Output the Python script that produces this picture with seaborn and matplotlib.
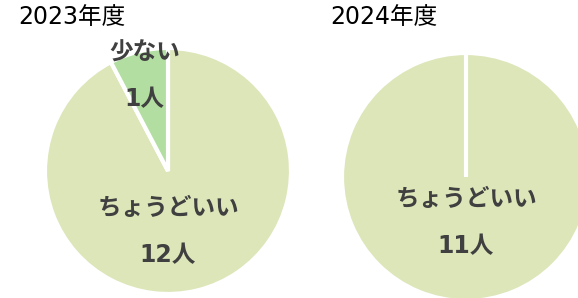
import numpy as np
import matplotlib
matplotlib.use("Agg")
import matplotlib.pyplot as plt
import seaborn as sns

# ---- data ----
categories = ["ちょうどいい", "少ない"]
years = ["2023年度", "2024年度"]
values_2023 = [12, 1]
values_2024 = [11, 0]
unit = "人"

sns.set_theme(style="white")
plt.rcParams["font.family"] = ["DejaVu Sans", "Noto Sans CJK JP"]

colors = ["#DCE6B9", "#B3DEA1"]
text_color = "#404040"

W, H = 578, 298
fig = plt.figure(figsize=(W / 100, H / 100), dpi=100)
fig.patch.set_facecolor("white")


def pie_axes(cx, cy, r):
    ax = fig.add_axes([(cx - r) / W, (H - cy - r) / H, 2 * r / W, 2 * r / H])
    return ax


LFS = 17


def draw(ax, vals, big_label_r):
    wedges, _ = ax.pie(vals, colors=colors, startangle=90, counterclock=False,
                       wedgeprops=dict(edgecolor="white", linewidth=3))
    ax.set_xlim(-1, 1)
    ax.set_ylim(-1, 1)
    ax.set_aspect("equal")
    ax.axis("off")
    for w, cat, v in zip(wedges, categories, vals):
        if v == 0:
            continue
        if v == max(vals):
            ax.text(0, -big_label_r + 0.19, cat, ha="center", va="center",
                    fontsize=LFS, fontweight="bold", color=text_color)
            ax.text(0, -big_label_r - 0.19, f"{v}{unit}", ha="center", va="center",
                    fontsize=LFS, fontweight="bold", color=text_color)
        else:
            ang = np.deg2rad((w.theta1 + w.theta2) / 2)
            lx = 0.8 * np.cos(ang)
            ax.text(lx, 0.985 * np.sin(ang) + 0.01, cat, ha="center", va="center",
                    fontsize=LFS, fontweight="bold", color=text_color)
            ax.text(lx, 0.6 * np.sin(ang), f"{v}{unit}", ha="center", va="center",
                    fontsize=LFS, fontweight="bold", color=text_color)


ax1 = pie_axes(168, 171, 123)
draw(ax1, values_2023, 0.49)
ax2 = pie_axes(466, 177, 124)
draw(ax2, values_2024, 0.37)

fig.text(18 / W, 1 - 17.5 / H, years[0], ha="left", va="center", fontsize=17, color="black")
fig.text(330 / W, 1 - 17.5 / H, years[1], ha="left", va="center", fontsize=17, color="black")

fig.savefig("out.png", dpi=100, facecolor="white")
